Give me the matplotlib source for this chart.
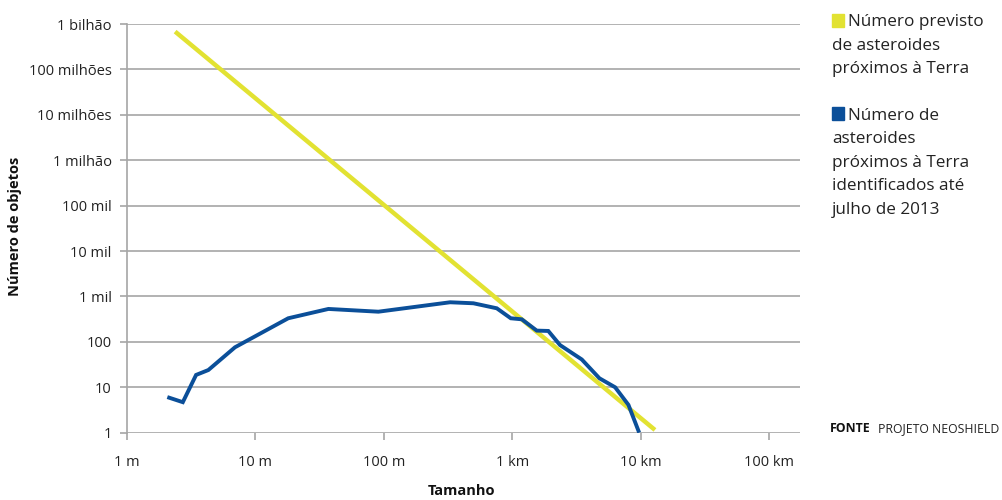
import numpy as np
import matplotlib.pyplot as plt
from matplotlib.patches import Rectangle

plt.rcParams['font.family'] = ['Open Sans', 'DejaVu Sans']

# dados (tamanho em metros, numero de objetos)
previsto_x = [2.37, 12900]
previsto_y = [6.8e8, 1.15]

ident_x = [2.13, 2.72, 3.45, 4.3, 6.93, 18.0, 37, 90.6, 328, 498, 757, 973,
           1185, 1550, 1906, 2353, 3475, 4767, 6320, 8020, 9600]
ident_y = [5.9, 4.7, 18.7, 24, 76, 331, 531, 462, 745, 708, 549, 331,
           314, 177, 174, 85, 41, 15.8, 10, 4.1, 1.1]

yticks = [1, 10, 100, 1e3, 1e4, 1e5, 1e6, 1e7, 1e8, 1e9]
ylabels = ['1', '10', '100', '1 mil', '10 mil', '100 mil', '1 milhão',
           '10 milhões', '100 milhões', '1 bilhão']
xticks = [1, 10, 100, 1e3, 1e4, 1e5]
xlabels = ['1 m', '10 m', '100 m', '1 km', '10 km', '100 km']

c_yel = '#e2e232'
c_blue = '#0b4f99'
grey = '#a6a6a6'

W, H = 1003, 500
fig = plt.figure(figsize=(W / 100, H / 100), dpi=100)
ax = fig.add_axes([127 / W, 1 - 432.7 / H, (800 - 127) / W, (432.7 - 24) / H])

ax.plot(previsto_x, previsto_y, color=c_yel, lw=3.2, solid_capstyle='butt', zorder=3)
ax.plot(ident_x, ident_y, color=c_blue, lw=2.8, solid_joinstyle='miter', zorder=4)

ax.set_xscale('log')
ax.set_yscale('log')
ax.set_xlim(1, 10 ** 5.24)
ax.set_ylim(1, 1e9)
ax.set_yticks(yticks)
ax.set_yticklabels(ylabels)
ax.set_xticks(xticks)
ax.set_xticklabels(xlabels)
ax.minorticks_off()

for y in yticks:
    ax.axhline(y, color=grey, lw=1.2, zorder=1)

for s in ['top', 'right', 'bottom']:
    ax.spines[s].set_visible(False)
ax.spines['left'].set_color(grey)
ax.spines['left'].set_linewidth(1.2)

ax.tick_params(axis='y', length=5, width=1.2, color=grey, pad=6,
               labelsize=10.5, labelcolor='#222222')
ax.tick_params(axis='x', length=5, width=1.2, color=grey, pad=11,
               labelsize=10.5, labelcolor='#222222')

fig.text(15 / W, 1 - 226 / H, 'Número de objetos', rotation=90, ha='center',
         va='center', fontsize=10.5, fontweight='bold', color='#111111')
fig.text(462 / W, 1 - 491 / H, 'Tamanho', ha='center', va='center',
         fontsize=10.5, fontweight='bold', color='#111111')

# legenda
def legend_item(color, lines, top):
    fig.patches.append(Rectangle((832 / W, 1 - (top + 12.5) / H), 12 / W, 12.5 / H,
                                 transform=fig.transFigure, color=color))
    for i, t in enumerate(lines):
        x = 848 if i == 0 else 832
        fig.text(x / W, 1 - (top + 12.5 + i * 23.4) / H, t, ha='left',
                 va='baseline', fontsize=12.3, color='#222222')

legend_item(c_yel, ['Número previsto', 'de asteroides', 'próximos à Terra'], 14)
legend_item(c_blue, ['Número de', 'asteroides', 'próximos à Terra',
                     'identificados até', 'julho de 2013'], 107.5)

fig.text(830 / W, 1 - 432 / H, 'FONTE', ha='left', va='baseline',
         fontsize=8.8, fontweight='bold', color='#111111')
fig.text(878 / W, 1 - 432 / H, 'PROJETO NEOSHIELD', ha='left', va='baseline',
         fontsize=8.8, color='#222222')

fig.savefig('out.png', dpi=100)
